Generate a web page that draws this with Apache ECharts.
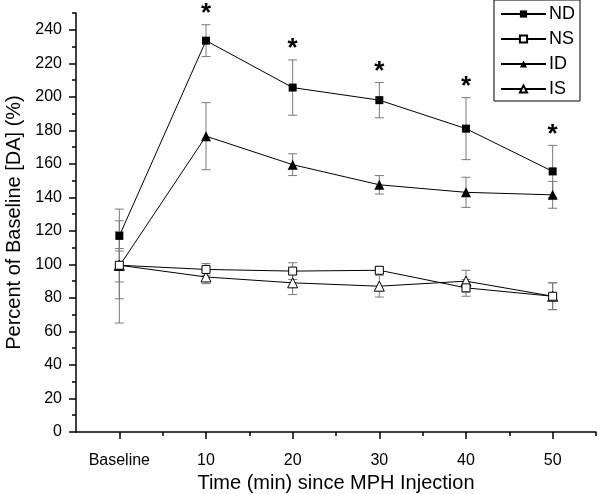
<!DOCTYPE html>
<html>
<head>
<meta charset="utf-8">
<script src="https://cdn.jsdelivr.net/npm/echarts@6/dist/echarts.min.js"></script>
<style>
html,body{margin:0;padding:0;background:#fff;}
#chart{width:600px;height:494px;}
</style>
</head>
<body>
<div id="chart"></div>
<script>
// ---- data ----
var categories = ['Baseline', '10', '20', '30', '40', '50'];
var xPos = [0, 10, 20, 30, 40, 50];
var xMinorTicks = [5, 15, 25, 35, 45, 55];
var yMajorTicks = [0, 20, 40, 60, 80, 100, 120, 140, 160, 180, 200, 220, 240];
var yMinorTicks = [10, 30, 50, 70, 90, 110, 130, 150, 170, 190, 210, 230, 250];

var ND = [117, 233.5, 205.5, 198, 181, 155.5];
var ND_err = [9, 9.5, 16.5, 10.5, 18.5, 15.5];
var NS = [99.5, 97, 96, 96.5, 86, 81];
var NS_err = [10, 3.5, 5, 2, 5, 8];
var ID = [99, 176.5, 159.5, 147.5, 143, 141.5];
var ID_err = [34, 20, 6.5, 5.5, 9, 8];
var IS = [99.5, 92.5, 89, 87, 90, 81];
var IS_err = [20, 4, 7, 6.5, 6.5, 8];
var significant = [false, true, true, true, true, true];

// ---- helpers ----
var FONT = '"Liberation Sans", Arial, sans-serif';
function pts(vals) { return vals.map(function (v, i) { return [xPos[i], v]; }); }
function errData(vals, errs) { return vals.map(function (v, i) { return [xPos[i], v - errs[i], v + errs[i]]; }); }

function errorSeries(vals, errs) {
  return {
    type: 'custom',
    silent: true,
    clip: false,
    z: 1,
    data: errData(vals, errs),
    encode: { x: 0, y: [1, 2] },
    renderItem: function (params, api) {
      var lo = api.coord([api.value(0), api.value(1)]);
      var hi = api.coord([api.value(0), api.value(2)]);
      var w = 4.5;
      var st = { stroke: '#7a7a7a', lineWidth: 1 };
      return {
        type: 'group',
        children: [
          { type: 'line', shape: { x1: lo[0], y1: lo[1], x2: hi[0], y2: hi[1] }, style: st },
          { type: 'line', shape: { x1: lo[0] - w, y1: lo[1], x2: lo[0] + w, y2: lo[1] }, style: st },
          { type: 'line', shape: { x1: hi[0] - w, y1: hi[1], x2: hi[0] + w, y2: hi[1] }, style: st }
        ]
      };
    }
  };
}

function lineSeries(name, vals, symbol, size, filled) {
  return {
    name: name,
    type: 'line',
    z: 3,
    data: pts(vals),
    symbol: symbol,
    symbolSize: size,
    showAllSymbol: true,
    clip: false,
    lineStyle: { color: '#000', width: 1 },
    itemStyle: filled ? { color: '#000', borderColor: '#000', borderWidth: 0 }
                      : { color: '#fff', borderColor: '#000', borderWidth: 1 },
    emphasis: { disabled: true },
    animation: false
  };
}

var starData = [];
ND.forEach(function (v, i) { if (significant[i]) starData.push([xPos[i], v + ND_err[i]]); });

var chart = echarts.init(document.getElementById('chart'), null, { renderer: 'canvas' });
chart.setOption({
  animation: false,
  backgroundColor: '#fff',
  textStyle: { fontFamily: FONT },
  grid: { left: 76, right: 4, top: 13, bottom: 62, containLabel: false, outerBoundsMode: 'none' },
  legend: {
    data: ['ND', 'NS', 'ID', 'IS'],
    orient: 'vertical',
    left: 494,
    top: 0,
    borderColor: '#000',
    borderWidth: 1,
    padding: [5, 5, 3, 6],
    itemWidth: 45,
    itemHeight: 9,
    itemGap: 7,
    textStyle: { fontFamily: FONT, fontSize: 18, color: '#000', lineHeight: 18, padding: [0, 0, 0, -2] },
    selectedMode: false
  },
  xAxis: [
    {
      type: 'value', min: -5, max: 55,
      name: 'Time (min) since MPH Injection',
      nameLocation: 'middle', nameGap: 39,
      nameTextStyle: { fontFamily: FONT, fontSize: 20, color: '#000' },
      axisLine: { show: true, onZero: false, lineStyle: { color: '#000', width: 1.5 } },
      axisTick: { show: true, length: 7, customValues: xPos, lineStyle: { color: '#000', width: 1.5 } },
      axisLabel: {
        customValues: xPos, margin: 21, fontFamily: FONT, fontSize: 16, color: '#000',
        formatter: function (v) { var k = xPos.indexOf(v); return k >= 0 ? categories[k] : ''; }
      },
      splitLine: { show: false }
    },
    {
      type: 'value', min: -5, max: 55, position: 'bottom',
      axisLine: { show: false, onZero: false },
      axisTick: { show: true, length: 4, customValues: xMinorTicks, lineStyle: { color: '#000', width: 1.5 } },
      axisLabel: { show: false },
      splitLine: { show: false }
    }
  ],
  yAxis: [
    {
      type: 'value', min: 0, max: 250,
      name: 'Percent of Baseline [DA] (%)',
      nameLocation: 'middle', nameGap: 51,
      nameTextStyle: { fontFamily: FONT, fontSize: 20, color: '#000' },
      axisLine: { show: true, onZero: false, lineStyle: { color: '#000', width: 1.5 } },
      axisTick: { show: true, length: 7, customValues: yMajorTicks, lineStyle: { color: '#000', width: 1.5 } },
      axisLabel: { customValues: yMajorTicks, margin: 14, fontFamily: FONT, fontSize: 16, color: '#000' },
      splitLine: { show: false }
    },
    {
      type: 'value', min: 0, max: 250, position: 'left', offset: 0,
      axisLine: { show: false, onZero: false },
      axisTick: { show: true, length: 4, customValues: yMinorTicks, lineStyle: { color: '#000', width: 1.5 } },
      axisLabel: { show: false },
      splitLine: { show: false }
    }
  ],
  series: [
    errorSeries(ID, ID_err),
    errorSeries(IS, IS_err),
    errorSeries(NS, NS_err),
    errorSeries(ND, ND_err),
    lineSeries('IS', IS, 'triangle', 10, false),
    lineSeries('ID', ID, 'triangle', 10, true),
    lineSeries('NS', NS, 'rect', 8, false),
    lineSeries('ND', ND, 'rect', 8, true),
    {
      type: 'custom',
      silent: true,
      clip: false,
      z: 4,
      data: starData,
      renderItem: function (params, api) {
        var p = api.coord([api.value(0), api.value(1)]);
        return {
          type: 'text',
          x: p[0], y: p[1] + 2,
          style: {
            text: '*', fontFamily: FONT, fontSize: 26, fontWeight: 'bold',
            fill: '#000', align: 'center', verticalAlign: 'bottom'
          }
        };
      }
    }
  ]
});
</script>
</body>
</html>
